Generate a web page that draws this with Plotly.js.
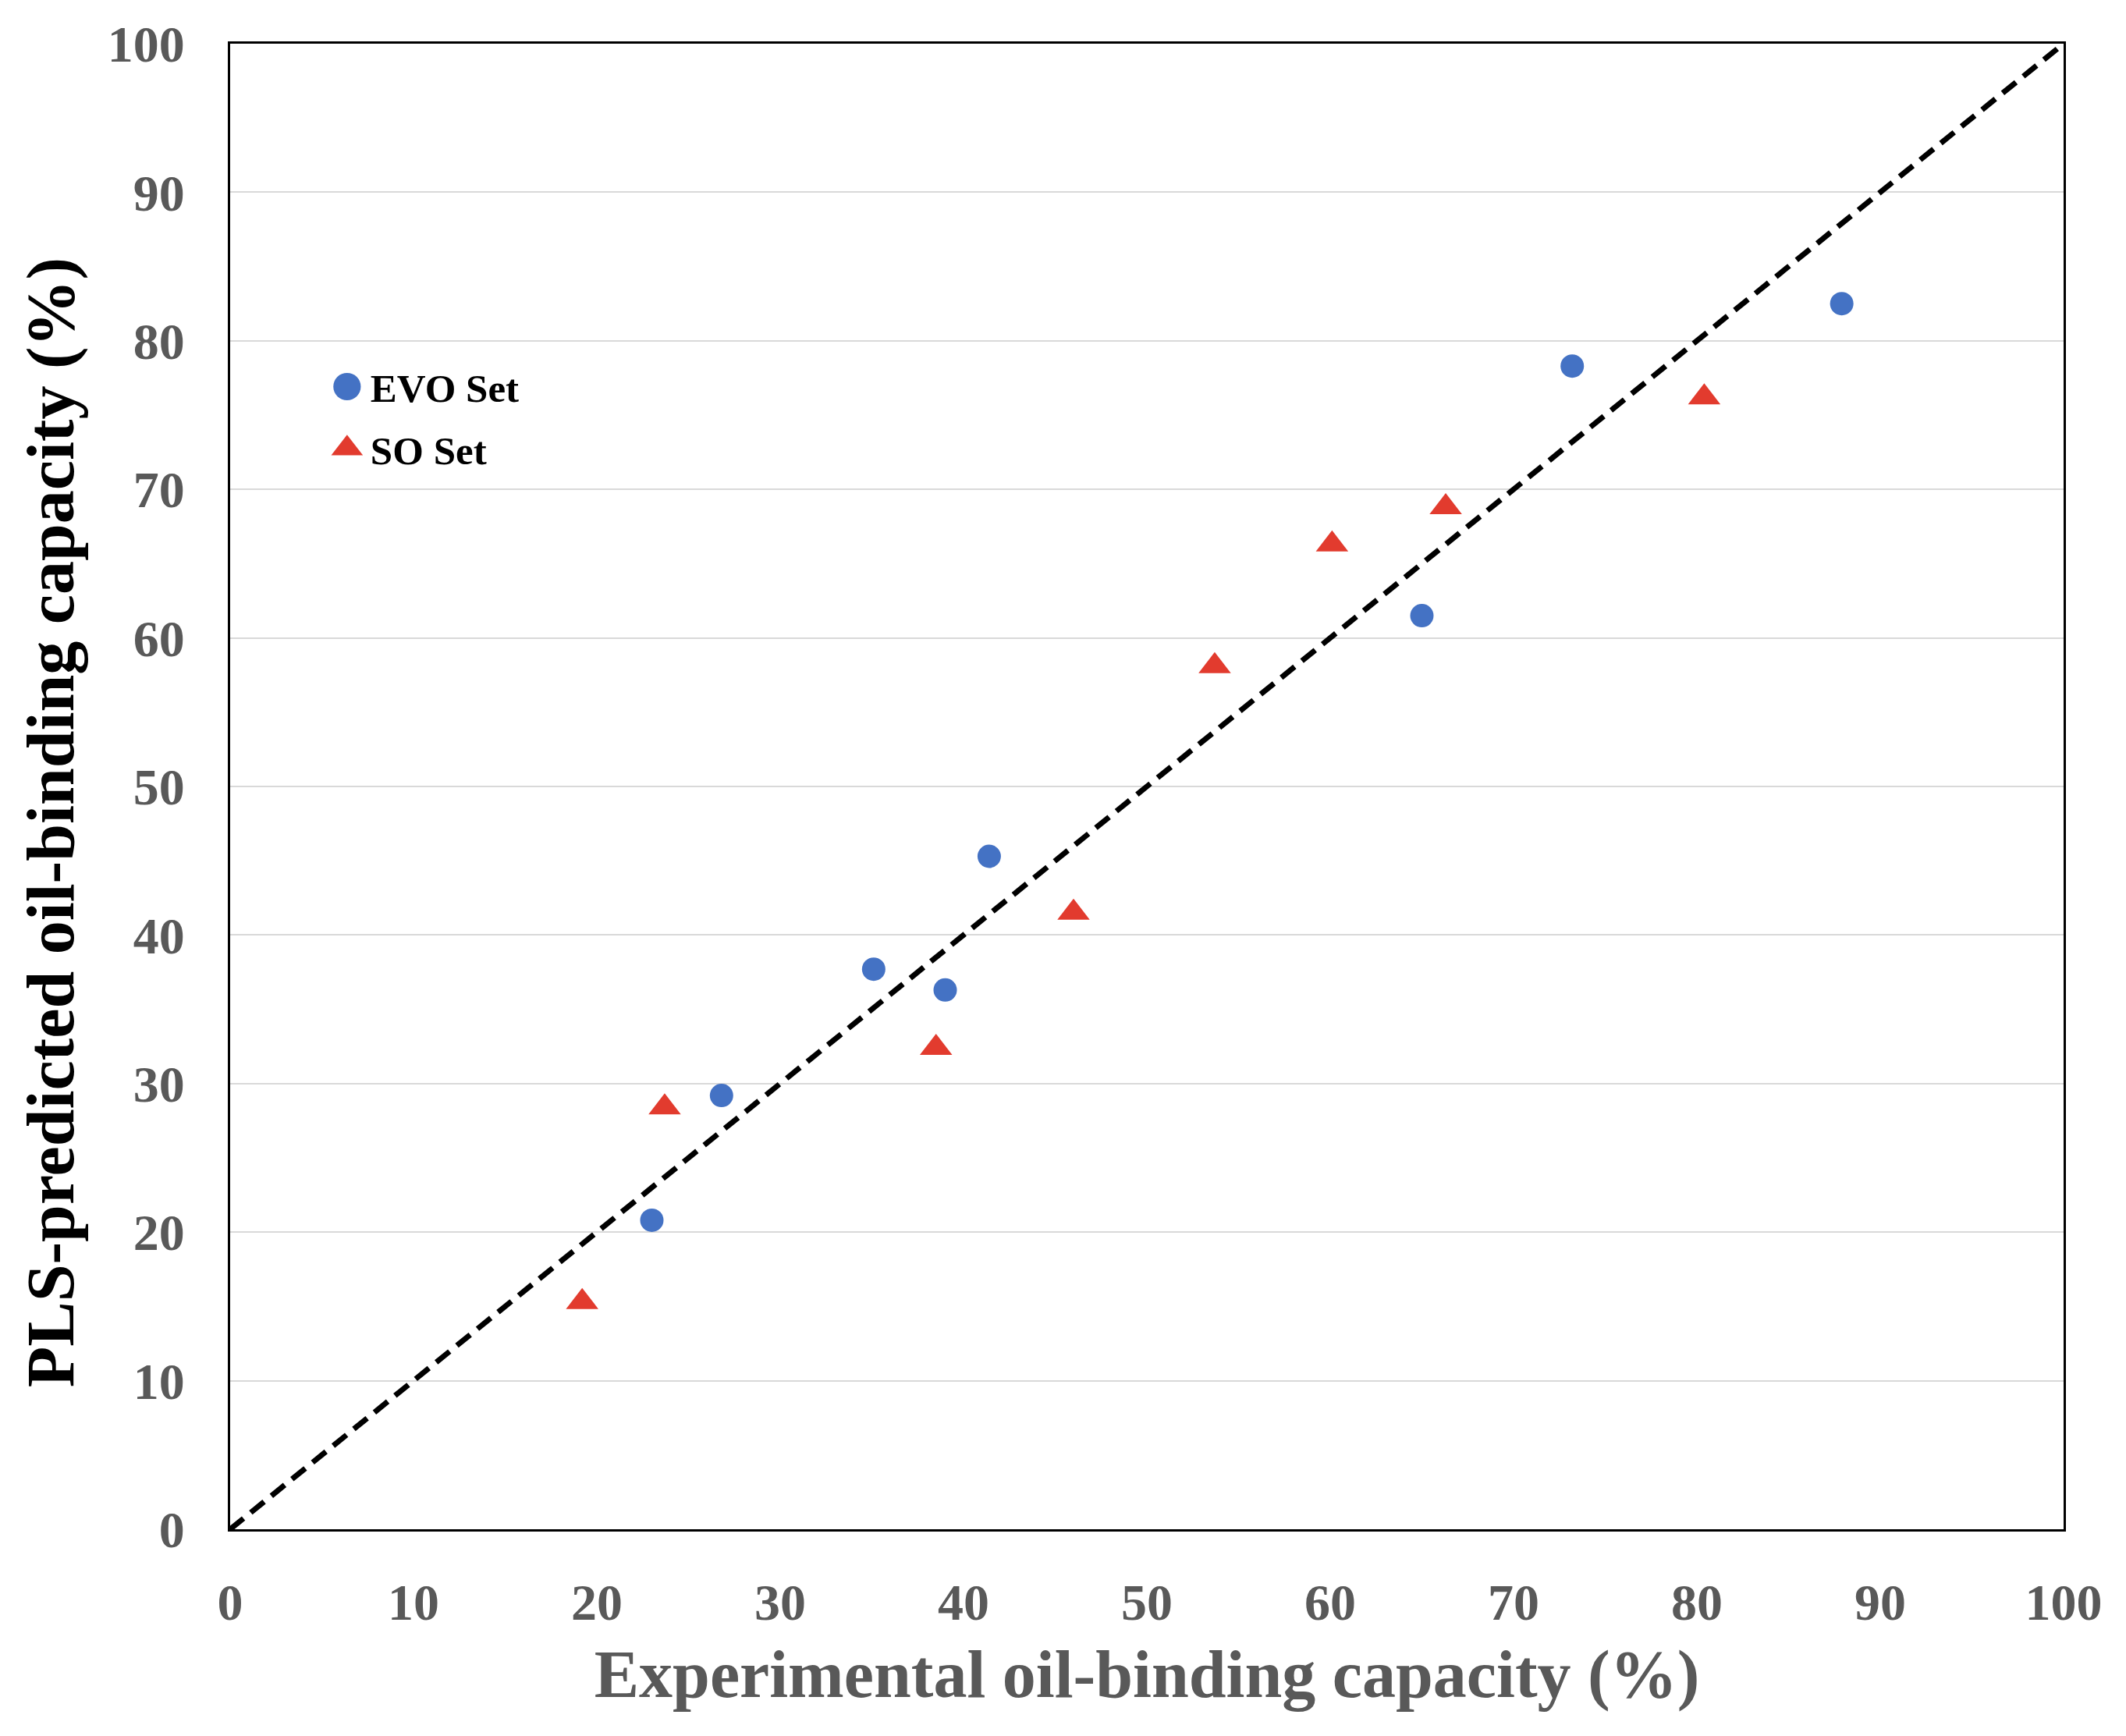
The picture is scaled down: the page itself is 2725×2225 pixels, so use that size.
<!DOCTYPE html>
<html>
<head>
<meta charset="utf-8">
<script src="https://cdn.plot.ly/plotly-3.0.1.min.js"></script>
<style>html,body{margin:0;padding:0;background:#fff;}</style>
</head>
<body>
<div id="chart" style="width:2725px;height:2225px;"></div>
<script>
// EVO Set (blue circles)
const evoX = [23.0, 26.8, 35.1, 39.0, 41.4, 65.0, 73.2, 87.9];
const evoY = [20.8, 29.2, 37.7, 36.3, 45.3, 61.5, 78.3, 82.5];
// SO Set (red triangles)
const soX = [19.2, 23.7, 38.5, 46.0, 53.7, 60.1, 66.3, 80.4];
const soY = [15.3, 28.4, 32.4, 41.5, 58.1, 66.3, 68.8, 76.2];
// 1:1 reference line
const diagX = [0, 100];
const diagY = [0, 100];
const tickVals = [0, 10, 20, 30, 40, 50, 60, 70, 80, 90, 100];
const tickText = ["0", "10", "20", "30", "40", "50", "60", "70", "80", "90", "100"];

const serif = "Liberation Serif, Times New Roman, serif";

const traces = [
  {
    x: diagX, y: diagY, mode: "lines", type: "scatter", showlegend: false,
    line: {color: "#000000", width: 7, dash: "22px,12px"}, hoverinfo: "skip"
  },
  {
    x: evoX, y: evoY, mode: "markers", type: "scatter", name: "EVO Set",
    legendgroup: "a",
    marker: {symbol: "circle", size: 30, color: "#4472C4"}
  },
  {
    x: soX, y: soY, mode: "markers", type: "scatter", name: "SO Set",
    legendgroup: "b",
    marker: {symbol: "triangle-up", size: 36, color: "#E23B2E"}
  }
];

const layout = {
  width: 2725, height: 2225,
  paper_bgcolor: "#ffffff", plot_bgcolor: "#ffffff",
  margin: {l: 295, r: 80, t: 56, b: 265},
  showlegend: true,
  legend: {
    x: 0.051, y: 0.79, xanchor: "left", yanchor: "top",
    bgcolor: "rgba(255,255,255,0)",
    font: {family: serif, size: 51, color: "#000000", weight: "bold"},
    traceorder: "grouped", tracegroupgap: 10,
    itemsizing: "trace", itemwidth: 50
  },
  xaxis: {
    range: [0, 100], tickvals: tickVals, ticktext: tickText,
    showgrid: false, zeroline: false,
    showline: true, linecolor: "#000000", linewidth: 3, mirror: true,
    ticks: "", ticklabelstandoff: 34,
    tickfont: {family: serif, size: 66, color: "#595959", weight: "bold"},
    title: {text: "Experimental oil-binding capacity (%)", standoff: 26,
            font: {family: serif, size: 86, color: "#595959", weight: "bold"}}
  },
  yaxis: {
    range: [0, 100], tickvals: tickVals, ticktext: tickText,
    showgrid: true, gridcolor: "#D9D9D9", gridwidth: 2, zeroline: false,
    showline: true, linecolor: "#000000", linewidth: 3, mirror: true,
    ticks: "", ticklabelstandoff: 42,
    tickfont: {family: serif, size: 66, color: "#595959", weight: "bold"},
    title: {text: "PLS-predicted oil-binding capacity (%)", standoff: 15,
            font: {family: serif, size: 86, color: "#000000", weight: "bold"}}
  }
};

Plotly.newPlot("chart", traces, layout, {displayModeBar: false, staticPlot: true}).then(function () {
  document.querySelectorAll(".legend .legendpoints path").forEach(function (p) {
    const t = p.getAttribute("transform") || "";
    p.setAttribute("transform", t + " scale(2.2)");
  });
  const yt = document.querySelector(".ytitle");
  if (yt) {
    const t = yt.getAttribute("transform") || "";
    yt.setAttribute("transform", "translate(0,46) " + t);
  }
});
</script>
</body>
</html>
